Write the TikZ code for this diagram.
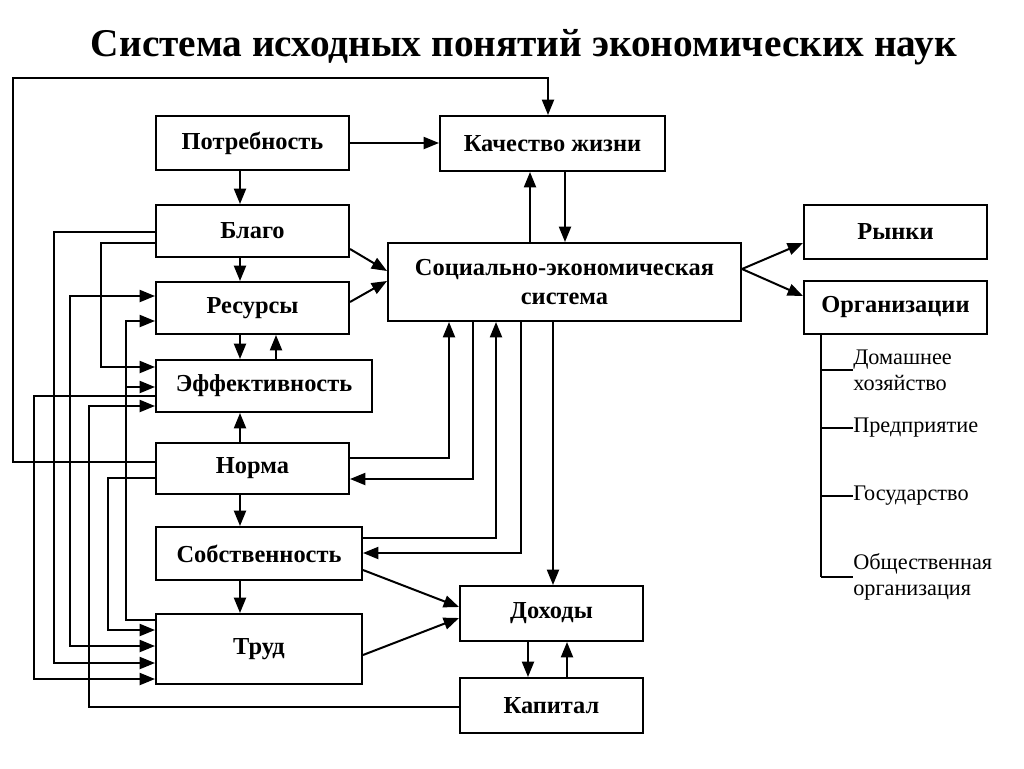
\documentclass[tikz,border=0pt]{standalone}
\usepackage{fontspec}
\setmainfont{Liberation Serif}
\usetikzlibrary{arrows.meta}
\begin{document}
\begin{tikzpicture}[x=0.75pt,y=-0.75pt,
  box/.style={draw,line width=1.5pt,inner sep=0pt,font=\fontsize{18.3pt}{22pt}\selectfont\bfseries,align=center},
  ln/.style={line width=1.5pt},
  arr/.style={ln,-{Triangle[length=11.5pt,width=9pt]}},
  barr/.style={ln,{Triangle[length=11.5pt,width=9pt]}-{Triangle[length=11.5pt,width=9pt]}},
  lbl/.style={anchor=west,inner sep=0pt,font=\fontsize{16.7pt}{19.5pt}\selectfont,align=left}]
\useasboundingbox (0,0) rectangle (1024,768);
\node[font=\fontsize{29.5pt}{34pt}\selectfont\bfseries] (title) at (524,47) {Система исходных понятий экономических наук};
\node[box,minimum width=144.75pt,minimum height=40.5pt] (potr) at (252.5,143) {Потребность};
\node[box,minimum width=168.75pt,minimum height=41.25pt] (kach) at (552.5,143.5) {Качество жизни};
\node[box,minimum width=144.75pt,minimum height=39pt] (blago) at (252.5,231) {Благо};
\node[box,minimum width=144.75pt,minimum height=39pt] (res) at (252.5,308) {Ресурсы};
\node[box,minimum width=162pt,minimum height=39pt] (eff) at (264,386) {Эффективность};
\node[box,minimum width=144.75pt,minimum height=38.25pt] (norma) at (252.5,468.5) {Норма};
\node[box,minimum width=154.5pt,minimum height=39.75pt] (sobst) at (259,553.5) {Собственность};
\node[box,minimum width=154.5pt,minimum height=52.5pt] (trud) at (259,649) {Труд};
\node[box,minimum width=264.75pt,minimum height=58.5pt] (ses) at (564.5,282) {Социально-экономическая\\система};
\node[box,minimum width=137.25pt,minimum height=40.5pt] (rynki) at (895.5,232) {Рынки};
\node[box,minimum width=137.25pt,minimum height=39.75pt] (org) at (895.5,307) {Организации};
\node[box,minimum width=137.25pt,minimum height=41.25pt] (doh) at (551.5,613.5) {Доходы};
\node[box,minimum width=137.25pt,minimum height=41.25pt] (kap) at (551.5,705.5) {Капитал};
% organisation tree
\node[lbl] (t1) at (853,370) {Домашнее\\хозяйство};
\node[lbl] (t2) at (853,428) {Предприятие};
\node[lbl] (t3) at (853,496) {Государство};
\node[lbl] (t4) at (853,577) {Общественная\\организация};
\draw[ln] (org.south -| 821,0) -- (821,577);
\draw[ln] (821,370) -- (t1.west);
\draw[ln] (821,428) -- (t2.west);
\draw[ln] (821,496) -- (t3.west);
\draw[ln] (821,577) -- (t4.west);
% loop from Норма to Качество жизни
\draw[arr] (norma.west |- 0,462) -- (13,462) -- (13,78) -- (548,78) -- (kach.north -| 548,0);
% left bundle
\draw[arr] (eff.west |- 0,396) -| (34,679) -- (trud.west |- 0,679);
\draw[arr] (blago.west |- 0,232) -| (54,663) -- (trud.west |- 0,663);
\draw[barr] (res.west |- 0,296) -| (70,646) -- (trud.west |- 0,646);
\draw[arr] (kap.west |- 0,707) -| (89,406) -- (eff.west |- 0,406);
\draw[arr] (blago.west |- 0,243) -| (101,367) -- (eff.west |- 0,367);
\draw[arr] (norma.west |- 0,478) -| (108,630) -- (trud.west |- 0,630);
\draw[arr] (trud.west |- 0,620) -| (126,321) -- (res.west |- 0,321);
\coordinate (br) at (126,387);
\draw[arr] (br) -- (eff.west |- br);
% middle column
\draw[arr] (potr.south -| 240,0) -- (blago.north -| 240,0);
\draw[arr] (blago.south -| 240,0) -- (res.north -| 240,0);
\draw[arr] (res.south -| 240,0) -- (eff.north -| 240,0);
\draw[arr] (eff.north -| 276,0) -- (res.south -| 276,0);
\draw[arr] (norma.north -| 240,0) -- (eff.south -| 240,0);
\draw[arr] (norma.south -| 240,0) -- (sobst.north -| 240,0);
\draw[arr] (sobst.south -| 240,0) -- (trud.north -| 240,0);
% top
\draw[arr] (potr.east) -- (kach.west |- potr.east);
\draw[arr] (ses.north -| 530,0) -- (kach.south -| 530,0);
\draw[arr] (kach.south -| 565,0) -- (ses.north -| 565,0);
\draw[arr] (blago.east |- 0,249) -- (ses.west |- 0,271);
\draw[arr] (res.east |- 0,302) -- (ses.west |- 0,281);
% SES to Норма / Собственность
\draw[arr] (norma.east |- 0,458) -| (ses.south -| 449,0);
\draw[arr] (ses.south -| 473,0) |- (norma.east |- 0,479);
\draw[arr] (sobst.east |- 0,538) -| (ses.south -| 496,0);
\draw[arr] (ses.south -| 521,0) |- (sobst.east |- 0,553);
\draw[arr] (ses.south -| 553,0) -- (doh.north -| 553,0);
\draw[arr] (sobst.east |- 0,570) -- (doh.west |- 0,607);
\draw[arr] (trud.east |- 0,655) -- (doh.west |- 0,618);
\draw[arr] (doh.south -| 528,0) -- (kap.north -| 528,0);
\draw[arr] (kap.north -| 567,0) -- (doh.south -| 567,0);
% right
\draw[arr] (ses.east |- 0,269) -- (rynki.west |- 0,243);
\draw[arr] (ses.east |- 0,269) -- (org.west |- 0,296);
\end{tikzpicture}
\end{document}
